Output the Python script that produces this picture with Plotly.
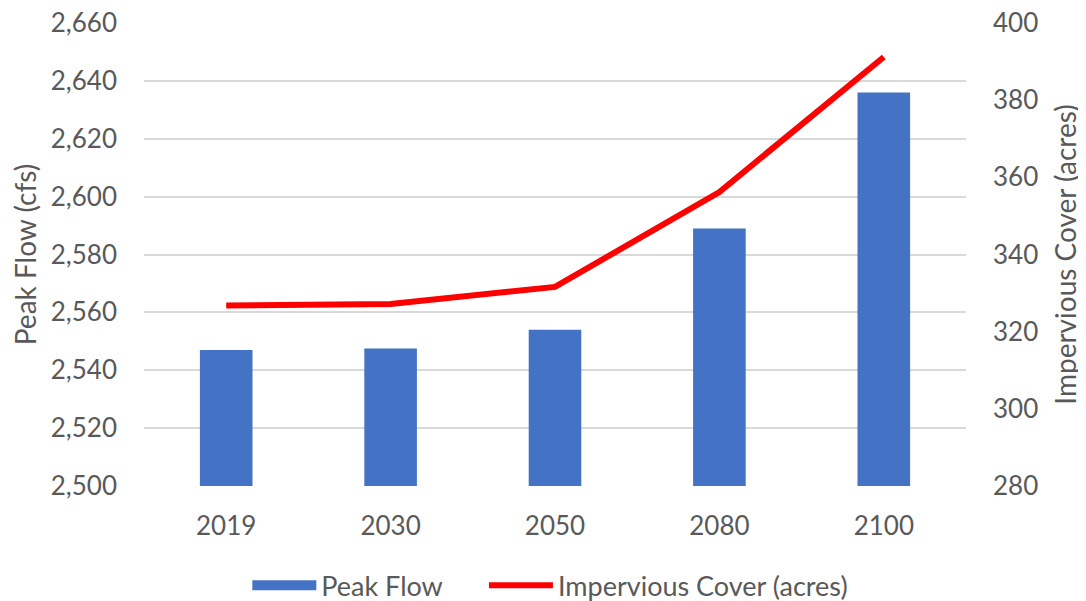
import plotly.graph_objects as go

years = ["2019", "2030", "2050", "2080", "2100"]
peak_flow = [2547, 2547.5, 2554, 2589, 2636]
impervious = [326.8, 327.2, 331.6, 356.2, 391.2]

left_ticks = [2500, 2520, 2540, 2560, 2580, 2600, 2620, 2640, 2660]
right_ticks = [280, 300, 320, 340, 360, 380, 400]

FONT = "Lato"
GRAY = "#595959"
BLUE = "#4472C4"
RED = "#FF0000"

fig = go.Figure()
fig.add_trace(go.Bar(
    x=years, y=peak_flow, name="Peak Flow",
    marker=dict(color=BLUE, line=dict(width=0)),
    width=0.32, yaxis="y", showlegend=False
))
# legend entry styled like the reference's wide bar swatch
fig.add_trace(go.Scatter(
    x=[None], y=[None], name="Peak Flow", mode="lines",
    line=dict(color=BLUE, width=14), yaxis="y", showlegend=True,
    legend="legend"
))
fig.add_trace(go.Scatter(
    x=years, y=impervious, name="Impervious Cover (acres)",
    mode="lines", line=dict(color=RED, width=6),
    yaxis="y2", legend="legend2"
))

leg_common = dict(orientation="h", xref="container", xanchor="left",
                  y=0.026, yref="container", yanchor="middle",
                  font=dict(family=FONT, size=27, color=GRAY),
                  itemwidth=64, bgcolor="rgba(0,0,0,0)")

# page body has an 8px margin, so the figure is sized/offset accordingly
fig.update_layout(
    width=1078, height=593,
    margin=dict(l=136, r=120, t=15, b=115, autoexpand=False),
    paper_bgcolor="white", plot_bgcolor="white",
    font=dict(family=FONT, size=26, color=GRAY),
    showlegend=True,
    legend=dict(x=0.222, **leg_common),
    legend2=dict(x=0.4415, **leg_common),
    xaxis=dict(
        type="category", showgrid=False, showline=False, ticks="",
        tickfont=dict(family=FONT, size=26, color=GRAY), ticklabelstandoff=22,
        automargin=False,
    ),
    yaxis=dict(
        range=[2500, 2660], tickvals=left_ticks,
        ticktext=[f"{v:,}" for v in left_ticks],
        showgrid=True, gridcolor="#D9D9D9", gridwidth=1.5,
        zeroline=False, showline=False, ticks="",
        tickfont=dict(family=FONT, size=26, color=GRAY), ticklabelstandoff=26,
        ticklabeloverflow="allow", automargin=False,
        title=dict(text="Peak Flow (cfs)", font=dict(family=FONT, size=28, color=GRAY), standoff=20),
    ),
    yaxis2=dict(
        range=[280, 400], tickvals=right_ticks, overlaying="y", side="right",
        showgrid=False, zeroline=False, showline=False, ticks="",
        tickfont=dict(family=FONT, size=26, color=GRAY), ticklabelstandoff=26,
        ticklabeloverflow="allow", automargin=False,
        title=dict(text="Impervious Cover (acres)", font=dict(family=FONT, size=28, color=GRAY), standoff=19),
    ),
)

fig.write_html("out.html")
